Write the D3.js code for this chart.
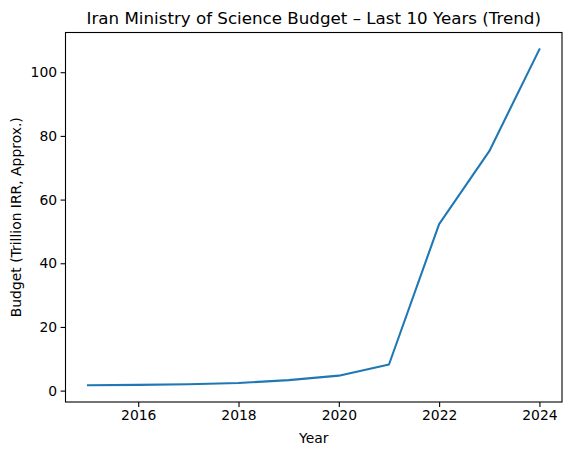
<!DOCTYPE html>
<html>
<head>
<meta charset="utf-8">
<script src="https://cdn.jsdelivr.net/npm/d3@7"></script>
<style>
  body { margin: 0; background: #fff; }
  text { font-family: "DejaVu Sans", sans-serif; fill: #000; }
</style>
</head>
<body>
<svg id="chart"></svg>
<script>
// values
const years = [2015, 2016, 2017, 2018, 2019, 2020, 2021, 2022, 2023, 2024];
const budget = [1.7, 1.8, 2.0, 2.4, 3.3, 4.7, 8.2, 52.3, 75.2, 107.2];
const xTicks = [2016, 2018, 2020, 2022, 2024];
const yTicks = [0, 20, 40, 60, 80, 100];

const W = 571, H = 455;
const margin = { top: 32.5, right: 9, bottom: 53, left: 65.5 };
const width = W - margin.left - margin.right;
const height = H - margin.top - margin.bottom;

const svg = d3.select("#chart").attr("width", W).attr("height", H);
const g = svg.append("g").attr("transform", `translate(${margin.left},${margin.top})`);

// matplotlib style 5% padding
const xPad = (d3.max(years) - d3.min(years)) * 0.05;
const yPad = (d3.max(budget) - d3.min(budget)) * 0.05;

const x = d3.scaleLinear()
  .domain([d3.min(years) - xPad, d3.max(years) + xPad])
  .range([0, width]);
const y = d3.scaleLinear()
  .domain([d3.min(budget) - yPad, d3.max(budget) + yPad])
  .range([height, 0]);

// axes
const xAxis = d3.axisBottom(x).tickValues(xTicks).tickFormat(d3.format("d"))
  .tickSize(4.9).tickPadding(3.5);
const yAxis = d3.axisLeft(y).tickValues(yTicks).tickFormat(d3.format("d"))
  .tickSize(4.9).tickPadding(3.5);

const gx = g.append("g").attr("transform", `translate(0,${height})`).call(xAxis);
const gy = g.append("g").call(yAxis);
[gx, gy].forEach((a) => {
  a.select(".domain").remove();
  a.selectAll(".tick line").attr("stroke", "#000").attr("stroke-width", 1.1);
  a.selectAll(".tick text").attr("font-size", "13.9px")
    .attr("font-family", "DejaVu Sans, sans-serif").attr("fill", "#000");
});

// line
const line = d3.line().x((d, i) => x(years[i])).y((d) => y(d));
g.append("path")
  .datum(budget)
  .attr("fill", "none")
  .attr("stroke", "#1f77b4")
  .attr("stroke-width", 2.08)
  .attr("stroke-linejoin", "round")
  .attr("stroke-linecap", "square")
  .attr("d", line);

// frame
g.append("rect")
  .attr("width", width).attr("height", height)
  .attr("fill", "none").attr("stroke", "#000").attr("stroke-width", 1.1);

// title
g.append("text")
  .attr("x", width / 2).attr("y", -9)
  .attr("text-anchor", "middle")
  .attr("font-size", "16.7px")
  .text("Iran Ministry of Science Budget \u2013 Last 10 Years (Trend)");

// axis labels
g.append("text")
  .attr("x", width / 2).attr("y", height + 41)
  .attr("text-anchor", "middle")
  .attr("font-size", "13.9px")
  .text("Year");

g.append("text")
  .attr("transform", "rotate(-90)")
  .attr("x", -height / 2).attr("y", -margin.left + 21)
  .attr("text-anchor", "middle")
  .attr("font-size", "13.9px")
  .text("Budget (Trillion IRR, Approx.)");
</script>
</body>
</html>
